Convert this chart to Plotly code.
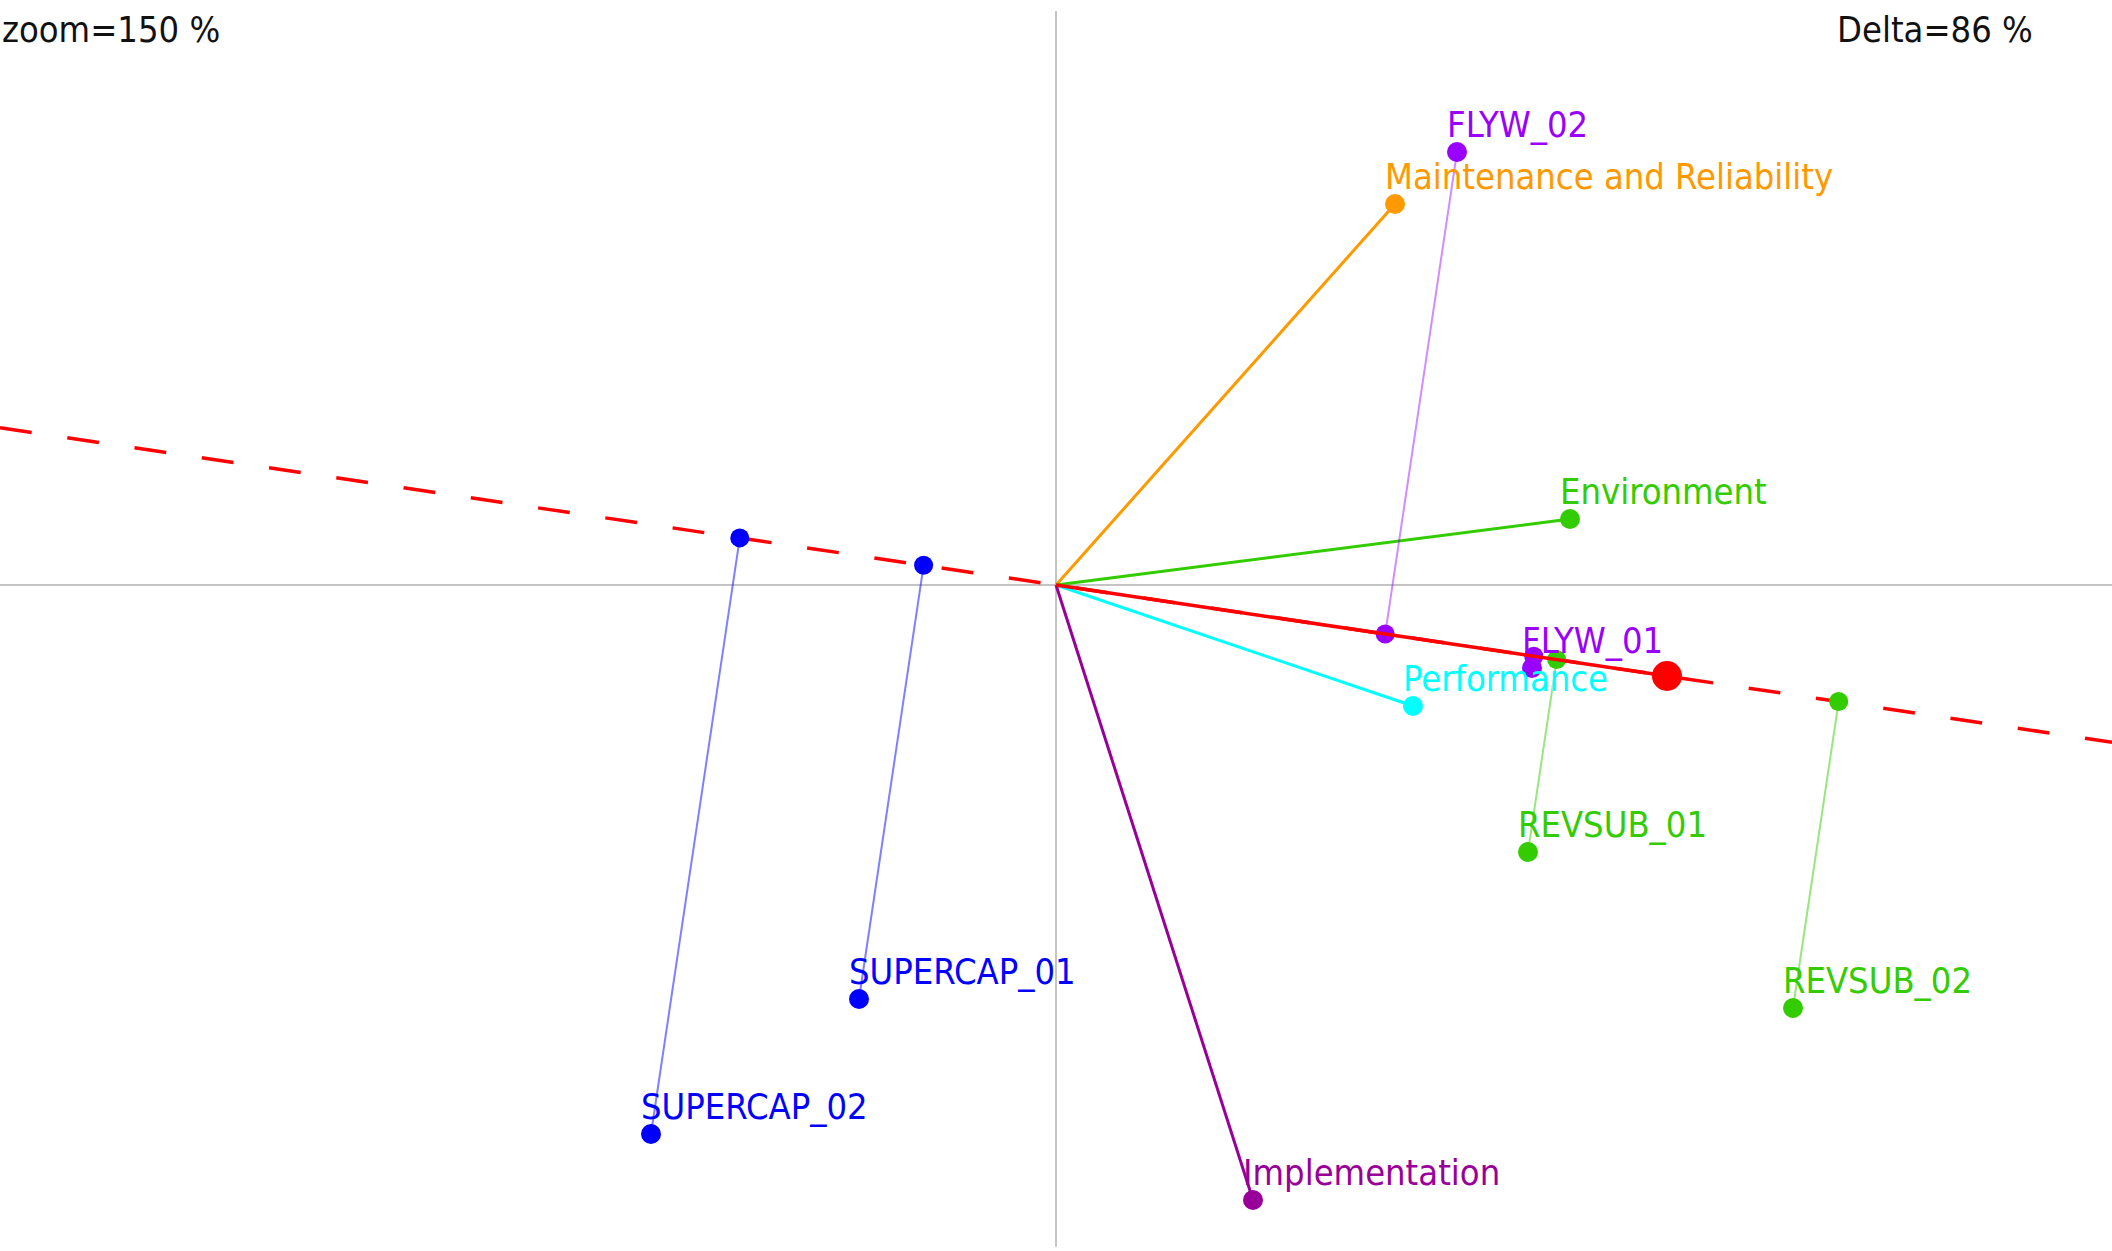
import plotly.graph_objects as go

# ---- data (GAIA plane coordinates, arbitrary units) ----
criteria = ["Maintenance and Reliability", "Environment", "Performance", "Implementation"]
crit_x = [0.678, 1.028, 0.714, 0.394]
crit_y = [0.762, 0.132, -0.242, -1.230]
crit_colors = ["#FF9900", "#33CC00", "#00FFFF", "#990099"]

actions = ["FLYW_01", "FLYW_02", "REVSUB_01", "REVSUB_02", "SUPERCAP_01", "SUPERCAP_02"]
act_x = [0.952, 0.802, 0.944, 1.474, -0.394, -0.810]
act_y = [-0.166, 0.866, -0.534, -0.846, -0.828, -1.098]
act_colors = ["#9900FF", "#9900FF", "#33CC00", "#33CC00", "#0000FF", "#0000FF"]
proj_colors = ["rgba(153,0,255,0.45)", "rgba(153,0,255,0.45)", "rgba(51,204,0,0.5)",
               "rgba(51,204,0,0.5)", "rgba(0,0,255,0.5)", "rgba(0,0,255,0.5)"]

decision_x = 1.222
decision_y = -0.182

zoom_text = "zoom=150 %"
delta_text = "Delta=86 %"

X_RANGE = [-2.112, 2.112]
Y_RANGE = [-1.324, 1.148]

FONT = "DejaVu Sans Condensed, DejaVu Sans, Verdana, sans-serif"
FS = 36

fig = go.Figure()

# criteria axes
for name, x, y, c in zip(criteria, crit_x, crit_y, crit_colors):
    fig.add_trace(go.Scatter(x=[0, x], y=[0, y], mode="lines",
                             line=dict(color=c, width=3), hoverinfo="skip"))
    fig.add_trace(go.Scatter(x=[x], y=[y], mode="markers", name=name,
                             marker=dict(color=c, size=20)))

# decision axis, dashed across the whole plane (starting at left edge)
norm2 = decision_x ** 2 + decision_y ** 2
k = X_RANGE[1] / abs(decision_x)
fig.add_trace(go.Scatter(x=[-k * decision_x, k * decision_x], y=[-k * decision_y, k * decision_y],
                         mode="lines", line=dict(color="#FF0000", width=3.5, dash="32px,36px"),
                         hoverinfo="skip"))

# projections of actions on decision axis
px_list, py_list = [], []
for x, y in zip(act_x, act_y):
    t = (x * decision_x + y * decision_y) / norm2
    px_list.append(t * decision_x)
    py_list.append(t * decision_y)

fig.add_trace(go.Scatter(x=px_list, y=py_list, mode="markers",
                         marker=dict(color=act_colors, size=19), hoverinfo="skip"))
for x, y, px, py, pc in zip(act_x, act_y, px_list, py_list, proj_colors):
    fig.add_trace(go.Scatter(x=[x, px], y=[y, py], mode="lines",
                             line=dict(color=pc, width=2), hoverinfo="skip"))

# decision stick
fig.add_trace(go.Scatter(x=[0, decision_x], y=[0, decision_y], mode="lines",
                         line=dict(color="#FF0000", width=3.5), hoverinfo="skip"))
fig.add_trace(go.Scatter(x=[decision_x], y=[decision_y], mode="markers",
                         marker=dict(color="#FF0000", size=30), name="Decision"))

# actions
fig.add_trace(go.Scatter(x=act_x, y=act_y, mode="markers", text=actions,
                         marker=dict(color=act_colors, size=20)))

annotations = []
for name, x, y, c in list(zip(criteria, crit_x, crit_y, crit_colors)) + \
        list(zip(actions, act_x, act_y, act_colors)):
    annotations.append(dict(x=x, y=y, xref="x", yref="y", text=name, showarrow=False,
                            xanchor="left", yanchor="middle", xshift=-12, yshift=28,
                            font=dict(family=FONT, size=FS, color=c)))

W, H = 2112, 1251
top, bottom = 11, 4
ax_h = H - top - bottom
annotations.append(dict(x=0, y=(H - bottom - 30) / ax_h, xref="paper", yref="paper",
                        text=zoom_text, showarrow=False, xanchor="left", yanchor="middle",
                        font=dict(family=FONT, size=FS, color="#111111")))
annotations.append(dict(x=2035 / W, y=(H - bottom - 30) / ax_h, xref="paper", yref="paper",
                        text=delta_text, showarrow=False, xanchor="right", yanchor="middle",
                        font=dict(family=FONT, size=FS, color="#111111")))

fig.update_layout(
    width=W, height=H,
    margin=dict(l=0, r=0, t=top, b=bottom),
    paper_bgcolor="white", plot_bgcolor="white",
    showlegend=False,
    annotations=annotations,
    xaxis=dict(range=X_RANGE, showgrid=False, showticklabels=False, ticks="",
               zeroline=True, zerolinecolor="#c4c4c4", zerolinewidth=2, showline=False),
    yaxis=dict(range=Y_RANGE, showgrid=False, showticklabels=False, ticks="",
               zeroline=True, zerolinecolor="#c4c4c4", zerolinewidth=2, showline=False),
)

fig.write_html("out.html")
